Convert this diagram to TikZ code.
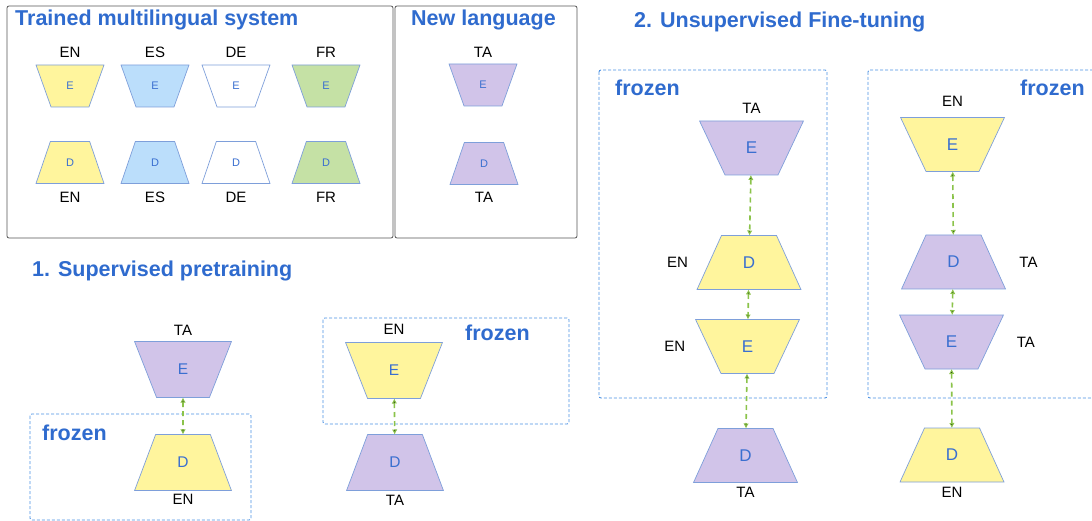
\documentclass[tikz,border=0pt]{standalone}
\usepackage{fontspec}
\setmainfont{Liberation Sans}
\usetikzlibrary{shapes.geometric,arrows.meta,positioning}

\definecolor{fillyellow}{HTML}{FFF59D}
\definecolor{fillpurple}{HTML}{D1C4E9}
\definecolor{fillblue}{HTML}{BBDEFB}
\definecolor{fillgreen}{HTML}{C5E1A5}
\definecolor{coderline}{HTML}{7E9FDA}
\definecolor{letterblue}{HTML}{3A6FD0}
\definecolor{headblue}{HTML}{2F6BCE}
\definecolor{frozenblue}{HTML}{4A90E2}
\definecolor{linkgreen}{HTML}{8BC34A}
\definecolor{panelgray}{HTML}{555555}

\tikzset{
  coder/.style={trapezium, trapezium stretches=true, draw=coderline, line width=0.7pt,
                inner sep=0pt, outer sep=0pt, text=letterblue},
  dec/.style={coder},
  enc/.style={coder, shape border rotate=180},
  smallcoder/.style={minimum width=68pt, minimum height=42pt, trapezium angle=69,
                     font=\fontsize{11}{13}\selectfont},
  midcoder/.style={minimum width=97pt, minimum height=56pt, trapezium angle=68,
                   font=\fontsize{15.5}{18}\selectfont},
  bigcoder/.style={minimum width=104pt, minimum height=54pt, trapezium angle=65,
                   font=\fontsize{17}{20}\selectfont},
  lang/.style={inner sep=1pt, font=\fontsize{15}{18}\selectfont},
  heading/.style={anchor=base west, inner sep=0pt, text=headblue,
                  font=\bfseries\fontsize{21.5}{25}\selectfont},
  panel/.style={draw=panelgray, line width=0.8pt, rounded corners=2pt},
  frozenbox/.style={draw=frozenblue, dash pattern=on 3pt off 2pt, line width=0.9pt, rounded corners=2pt},
  link/.style={draw=linkgreen, line width=1.6pt, dash pattern=on 5pt off 4pt,
               {Latex[length=5pt,width=5.5pt]}-{Latex[length=5pt,width=5.5pt]}}
}

\begin{document}
\begin{tikzpicture}[x=1pt, y=-1pt]
    \useasboundingbox (0,0) rectangle (1092,521);

    % Panels and headings
    \draw [panel] (7,6) rectangle (393,238);
    \draw [panel] (395,6) rectangle (577,238);
    \node [heading] (hTrained)  at (15,26)   {Trained multilingual system};
    \node [heading] (hNew)      at (411,26)  {New language};
    \node [heading] (hFine)     at (634,28)  {2. Unsupervised Fine-tuning};
    \node [heading] (hPre)      at (32,277)  {1. Supervised pretraining};

    % Trained multilingual system
    \node [enc, smallcoder, fill=fillyellow]  (eEN)  at (70,86)    {E};
    \node [enc, smallcoder, fill=fillblue]    (eES)  at (155,86)   {E};
    \node [enc, smallcoder, fill=white]       (eDE)  at (236,86)   {E};
    \node [enc, smallcoder, fill=fillgreen]   (eFR)  at (326,86)   {E};
    \node [dec, smallcoder, fill=fillyellow]  (dEN)  at (70,162.5) {D};
    \node [dec, smallcoder, fill=fillblue]    (dES)  at (155,162.5) {D};
    \node [dec, smallcoder, fill=white]       (dDE)  at (236,162.5) {D};
    \node [dec, smallcoder, fill=fillgreen]   (dFR)  at (326,162.5) {D};
    \node [lang] (leEN) [above=6.5pt of eEN] {EN};
    \node [lang] (leES) [above=6.5pt of eES] {ES};
    \node [lang] (leDE) [above=6.5pt of eDE] {DE};
    \node [lang] (leFR) [above=6.5pt of eFR] {FR};
    \node [lang] (ldEN) [below=7.5pt of dEN] {EN};
    \node [lang] (ldES) [below=7.5pt of dES] {ES};
    \node [lang] (ldDE) [below=7.5pt of dDE] {DE};
    \node [lang] (ldFR) [below=7.5pt of dFR] {FR};

    % New language
    \node [enc, smallcoder, fill=fillpurple]  (eTA)  at (483,85)   {E};
    \node [dec, smallcoder, fill=fillpurple]  (dTA)  at (484,163.5) {D};
    \node [lang] (leTA) [above=5.5pt of eTA] {TA};
    \node [lang] (ldTA) [below=6.5pt of dTA] {TA};

    % 1. Supervised pretraining
    \draw [frozenbox] (30,414) rectangle (251,520);
    \draw [frozenbox] (323,318) rectangle (569,424);
    \node [heading] (fzA) at (42,440)  {frozen};
    \node [heading] (fzB) at (465,340) {frozen};

    \node [enc, midcoder, fill=fillpurple]  (pEncTA) at (183,369.5) {E};
    \node [dec, midcoder, fill=fillyellow]  (pDecEN) at (183,462.5) {D};
    \node [enc, midcoder, fill=fillyellow]  (qEncEN) at (394,370.5) {E};
    \node [dec, midcoder, fill=fillpurple]  (qDecTA) at (395,462.5) {D};
    \node [lang] (lpEncTA) [above=4.5pt of pEncTA] {TA};
    \node [lang] (lpDecEN) [below=2.5pt of pDecEN] {EN};
    \node [lang] (lqEncEN) [above=6.5pt of qEncEN] {EN};
    \node [lang] (lqDecTA) [below=3.5pt of qDecTA] {TA};

    \path [link] (pEncTA) edge (pDecEN);
    \path [link] (qEncEN) edge (qDecTA);

    % 2. Unsupervised Fine-tuning
    \draw [frozenbox] (599,70) rectangle (827,398);
    \draw [frozenbox] (868,70) rectangle (1100,398);
    \node [heading] (fzC) at (615,96)  {frozen};
    \node [heading] (fzD) at (1020,96) {frozen};

    \node [enc, bigcoder, fill=fillpurple]  (uEncTA) at (751.5,148)   {E};
    \node [dec, bigcoder, fill=fillyellow]  (uDecEN) at (749,262.5)   {D};
    \node [enc, bigcoder, fill=fillyellow]  (uEncEN) at (747.5,346.5) {E};
    \node [dec, bigcoder, fill=fillpurple]  (uDecTA) at (745.5,455.5) {D};
    \node [lang] (luEncTA) [above=6.5pt of uEncTA] {TA};
    \node [lang] (luDecEN) [left=20pt of uDecEN]   {EN};
    \node [lang] (luEncEN) [left=22pt of uEncEN]   {EN};
    \node [lang] (luDecTA) [below=3.5pt of uDecTA] {TA};

    \node [enc, bigcoder, fill=fillyellow]  (vEncEN) at (952.5,144.5) {E};
    \node [dec, bigcoder, fill=fillpurple]  (vDecTA) at (953.5,262)   {D};
    \node [enc, bigcoder, fill=fillpurple]  (vEncTA) at (951.5,342)   {E};
    \node [dec, bigcoder, fill=fillyellow]  (vDecEN) at (952,455)     {D};
    \node [lang] (lvEncEN) [above=9.5pt of vEncEN] {EN};
    \node [lang] (lvDecTA) [right=25pt of vDecTA]  {TA};
    \node [lang] (lvEncTA) [right=25pt of vEncTA]  {TA};
    \node [lang] (lvDecEN) [below=3.5pt of vDecEN] {EN};

    \path [link] (uEncTA) edge (uDecEN);
    \path [link] (uDecEN) edge (uEncEN);
    \path [link] (uEncEN) edge (uDecTA);
    \path [link] (vEncEN) edge (vDecTA);
    \path [link] (vDecTA) edge (vEncTA);
    \path [link] (vEncTA) edge (vDecEN);
\end{tikzpicture}
\end{document}
